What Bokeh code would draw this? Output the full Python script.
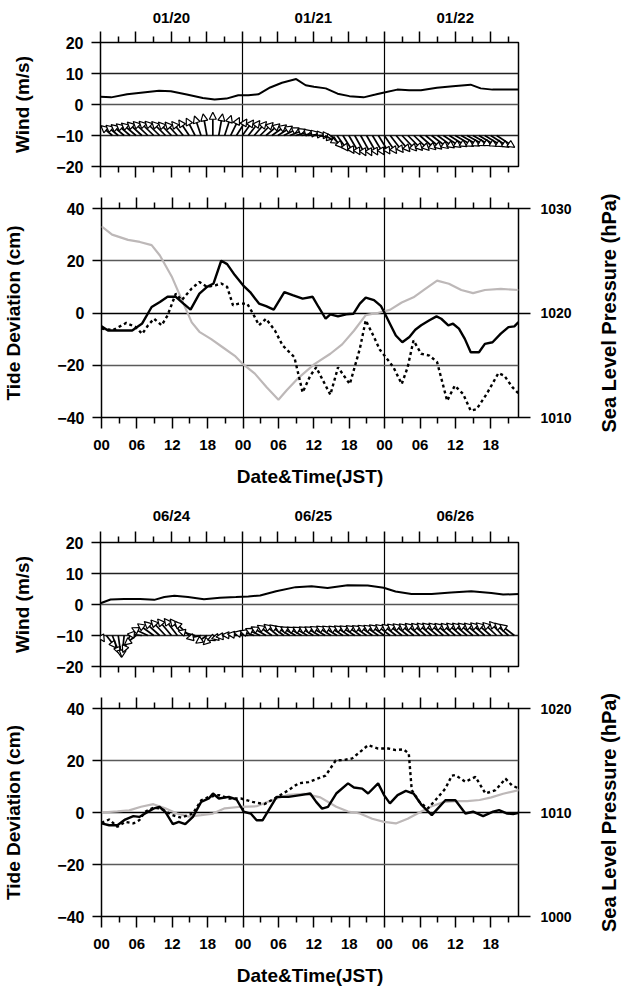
import math
from bokeh.plotting import figure
from bokeh.layouts import column, row
from bokeh.models import (Range1d, LinearAxis, FixedTicker, Grid, Arrow,
                          NormalHead, ColumnDataSource, Title)
from bokeh.embed import file_html
from bokeh.resources import INLINE

# ---------------------------------------------------------------- data
# hours since 00 JST of the first day
jan_days = ["01/20", "01/21", "01/22"]
jun_days = ["06/24", "06/25", "06/26"]

# --- January: wind speed (m/s)
jan_speed_t = [0, 1.8, 4.5, 7.2, 9.9, 11.9, 14.6, 17.3, 19.3, 21.3, 23.3, 25, 26.7, 28.7, 30.7,
               33.1, 34.7, 36.1, 38.1, 40.1, 42.1, 44.5, 46.5, 48, 50.2, 52.2, 54.2, 56.9,
               59.6, 62.6, 64.3, 66.3, 70.7]
jan_speed = [2.5, 2.3, 3.3, 3.9, 4.4, 4.3, 3.2, 2.1, 1.6, 1.9, 3.0, 3.0, 3.3, 5.5, 7.0,
             8.2, 6.2, 5.7, 5.2, 3.5, 2.7, 2.3, 3.2, 3.9, 4.8, 4.6, 4.6, 5.4,
             5.9, 6.4, 5.2, 4.8, 4.8]

# --- January: hourly wind vector components (m/s), hours 0..70
jan_vec_t = list(range(0, 71))
jan_wind_u = [-2.9, -2.9, -3.0, -3.2, -3.4, -3.6, -3.8, -3.8, -3.8, -3.8,
              -3.8, -3.6, -3.4, -3.2, -3.0, -2.7, -2.3, -1.7, -1.0, 0.0,
              1.0, 1.7, 2.3, 2.7, 2.9, 3.0, 3.2, 3.4, 3.6, 3.8,
              3.8, 4.0, 4.2, 4.2, 4.4, 4.4, 4.4, 3.8, 3.4, 3.0,
              2.9, 2.9, 2.9, 2.9, 2.9, 2.9, 3.0, 3.0, 3.2, 3.4,
              3.6, 3.8, 3.8, 4.0, 4.2, 4.2, 4.4, 4.4, 4.6, 4.6,
              4.8, 4.8, 4.8, 4.7, 4.7, 4.8, 4.8, 4.7, 4.6, 4.6, 4.5]
jan_wind_v = [3.0, 3.0, 3.2, 3.3, 3.5, 3.8, 4.0, 4.3, 4.5, 4.6,
              4.6, 4.5, 4.3, 4.3, 4.5, 5.0, 5.6, 6.3, 7.0, 7.5,
              7.0, 6.5, 5.8, 5.3, 5.0, 4.8, 4.5, 4.2, 3.8, 3.4,
              3.0, 2.5, 2.0, 1.5, 1.0, 0.5, 0.1, -1.0, -2.5, -4.0,
              -5.0, -5.8, -6.2, -6.5, -6.5, -6.3, -6.2, -6.0, -5.8, -5.5,
              -5.2, -5.0, -4.8, -4.8, -4.6, -4.4, -4.2, -4.0, -3.8, -3.6,
              -3.5, -3.4, -3.3, -3.3, -3.5, -3.6, -3.8, -3.8, -3.7, -3.6, -3.5]

# --- January: tide deviation (cm), observed (solid) and second series (dotted)
jan_obs_t = [0, 1.1, 3.2, 5.2, 6.9, 8.5, 9.9, 11.2, 12.6, 13.9, 15.1, 16.6, 17.9, 19, 20.3,
             21.3, 22.6, 24, 25.2, 26.7, 27.9, 29.2, 31, 32.4, 34.1, 35.8, 36.8, 38, 38.8,
             40.1, 41.5, 42.7, 43.8, 44.8, 46.2, 47.4, 48, 48.9, 49.9, 51, 52.2, 53.2, 54.2,
             55.6, 56.8, 57.6, 58.8, 59.6, 60.6, 61.6, 62.6, 64, 65, 66.3, 67.7, 69, 70, 70.7]
jan_obs = [-5.1, -6.7, -6.7, -6.7, -4, 2.3, 4.2, 6.2, 6.2, 3.6, 1.3, 7.4, 10, 11.3, 20,
           18.7, 14.5, 10.6, 8, 3.6, 2.6, 1.3, 8, 6.8, 5.5, 6.2, 2.3, -2.2, -0.5,
           -1.3, -0.5, -0.3, 3.6, 5.9, 4.9, 2.6, 0, -4.1, -8.6, -11.2, -9.2, -6.4, -4.7,
           -2.8, -1.3, -2.2, -4.7, -4.1, -6, -9.9, -15, -15, -11.8, -11.2, -7.9, -5.4, -5.1, -3.5]
jan_dot_t = [0, 2, 4.2, 5.8, 6.9, 7.9, 8.9, 10.2, 11.2, 12.6, 13.6, 15.3, 16.6, 17.9, 19.3,
             20.3, 21.3, 22.3, 23.3, 24.7, 25.7, 26.7, 27.9, 29.4, 30.7, 32.7, 34.1, 35.4,
             36.4, 38.8, 40.1, 41.1, 42.1, 43.8, 44.8, 46.2, 47.2, 48.2, 49.5, 50.9, 51.9,
             52.9, 54.2, 55.6, 56.9, 58.6, 59.9, 61.3, 62.6, 63.6, 65.3, 67.3, 68.3, 69.7, 70.7]
jan_dot = [-6, -6.5, -3.8, -5.4, -8, -4.7, -2.2, -4.7, -0.9, 7.4, 4.9, 9.4, 11.9, 10, 10.6,
           11.3, 10, 2.9, 3.6, 3.6, -0.3, -4.7, -2.2, -6.7, -12.4, -16.9, -30.4, -24,
           -20.8, -31.3, -20.8, -24, -27.2, -13.7, -2.8, -9.2, -14.1, -16.9, -20.8, -27.2, -20.8,
           -10.5, -15.6, -16.3, -18.8, -33.6, -27.8, -31, -37.4, -36.8, -31, -23, -24, -28.5, -30.8]
# --- January: sea level pressure (hPa)
jan_slp_t = [0, 1.8, 4.5, 6.5, 8.5, 9.9, 11.9, 13.9, 15.3, 16.6, 18.6, 20.6, 22.6, 24, 26,
             28, 30, 31.4, 33.4, 36.1, 38.8, 40.8, 42.8, 44.8, 46.8, 48.9, 50.9, 52.9, 54.9,
             56.9, 58.9, 61, 63, 65, 67.7, 70.7]
jan_slp = [1028.3, 1027.5, 1027.0, 1026.8, 1026.5, 1025.5, 1023.5, 1020.9, 1019.1, 1018.2,
           1017.5, 1016.7, 1015.9, 1015.1, 1014.2, 1012.9, 1011.7, 1012.6, 1013.8, 1015.1,
           1016.1, 1017.0, 1018.3, 1019.8, 1020.0, 1020.3, 1021.0, 1021.5, 1022.3, 1023.1,
           1022.8, 1022.2, 1021.9, 1022.2, 1022.3, 1022.2]

# --- June: wind speed (m/s)
jun_speed_t = [0, 1.7, 4, 6.7, 9.1, 10.8, 12.5, 14.8, 17.5, 20.2, 22.9, 25, 27, 29.7, 33,
               35.7, 38.4, 41.8, 45.2, 47.9, 49.9, 52.6, 56, 59.3, 62.7, 66.1, 68.1, 70.8]
jun_speed = [0.4, 1.6, 1.8, 1.8, 1.5, 2.4, 2.8, 2.4, 1.7, 2.2, 2.4, 2.6, 2.9, 4.3, 5.6,
             5.9, 5.3, 6.2, 6.1, 5.4, 4.2, 3.4, 3.4, 3.9, 4.3, 3.7, 3.2, 3.4]

# --- June: hourly wind vector components (m/s), hours 0..70
jun_vec_t = list(range(0, 71))
jun_wind_u = [1.0, 2.5, 1.9, 0.8, -0.6, -1.9, -3.0, -3.8, -4.2, -4.2,
              -4.0, -3.8, -3.6, -3.4, -3.4, -3.8, -4.4, -3.8, -2.9, -2.5,
              -2.9, -3.4, -3.8, -3.8, -3.9, -3.8, -3.7, -3.8, -3.9, -3.8,
              -3.6, -3.7, -3.8, -3.9, -3.8, -3.8, -3.7, -3.8, -3.9, -3.8,
              -3.8, -3.7, -3.8, -3.9, -3.8, -3.7, -3.8, -3.8, -3.9, -3.8,
              -3.7, -3.8, -3.9, -3.8, -3.8, -3.7, -3.8, -3.9, -3.8, -3.8,
              -3.7, -3.8, -3.8, -3.9, -3.8, -3.7, -3.8, -3.6, -3.4, -3.6, -3.8]
jun_wind_v = [-2.0, -4.0, -6.0, -7.0, -7.0, -5.5, -3.0, 0.5, 2.5, 3.8,
              4.5, 5.0, 5.3, 5.5, 5.3, 4.5, 1.5, -1.0, -2.5, -3.0,
              -1.5, -1.0, -0.5, 0.2, 0.5, 1.0, 1.5, 2.2, 2.8, 3.3,
              3.6, 3.4, 3.0, 2.8, 2.7, 2.7, 2.8, 2.8, 2.9, 3.0,
              3.0, 3.0, 3.1, 3.1, 3.2, 3.2, 3.3, 3.3, 3.4, 3.5,
              3.6, 3.7, 3.8, 3.8, 3.9, 3.9, 4.0, 4.0, 4.0, 3.9,
              3.9, 4.0, 4.0, 4.0, 4.0, 4.1, 4.1, 4.2, 4.5, 4.0, 3.6]

# --- June: tide deviation (cm)
jun_obs_t = [0, 1.3, 2.7, 4, 5.4, 6.4, 7.4, 8.8, 9.8, 10.8, 12.1, 13.1, 14.2, 15.5, 16.9,
             18.2, 18.9, 19.9, 21.6, 22.9, 24.1, 25.3, 26.3, 27.3, 28.5, 29.7, 31.7, 33.7,
             35.4, 36.4, 37.4, 38.4, 39.8, 41.8, 42.8, 44.2, 45.2, 46.9, 47.9, 48.9, 50.2,
             51.6, 52.9, 54.3, 56, 57, 58.3, 60, 61.7, 63, 64.7, 66.4, 67.4, 68.8, 69.8, 70.8]
jun_obs = [-4.2, -4.9, -4.9, -2.7, -1.4, -1.7, -0.4, 1.5, 2.2, 0.3, -4.5, -3.6, -4.5, -1.7, 4.1,
           5.4, 7.3, 5.4, 6, 5, 0.3, -0.4, -3, -3, 1.5, 6, 6, 6.7,
           7.3, 4.1, 1.5, 2.2, 7.3, 11.2, 9.6, 9.2, 7.3, 11.2, 6.7, 3.5, 6.7,
           8.3, 7.3, 2.8, -1, 1.5, 4.7, 4.7, -0.4, 0.3, -1.4, 0.3, 0.9, -0.4, -0.6, -0.1]
jun_dot_t = [0, 1.3, 2.7, 4, 5.4, 6.4, 7.4, 8.8, 10.1, 12, 13.5, 15.5, 16.9, 18.2, 19.9,
             21.6, 23.6, 25.6, 27.6, 29.7, 31.7, 33.4, 35.1, 38, 39.7, 41.1, 42.5, 44.2,
             45.2, 46.9, 48.6, 49.9, 51.2, 52.1, 52.6, 53.9, 55.3, 56.6, 58.3, 59.4, 60,
             61.7, 63.4, 65.1, 66.8, 68.5, 69.6, 70.8]
jun_dot = [-4, -2.7, -5.5, -3.6, -4.2, -3, 0.3, 1.8, 1.5, -1, -2, -0.4, 4.7, 6, 6.7,
           5.4, 5.4, 4.1, 3.2, 5.8, 8.6, 11.2, 11.7, 14.2, 20, 20.2, 20.8, 24,
           25.9, 24.6, 24.6, 24, 24.3, 22.7, 8.6, 4.1, 1.5, 4.7, 9.2, 14.2, 14.4,
           11.8, 13.7, 7.3, 8.6, 13, 10.4, 9.2]
# --- June: sea level pressure (hPa)
jun_slp_t = [0, 2.7, 4.7, 6.7, 8.8, 10.8, 12.8, 14.8, 16.9, 18.9, 20.9, 23.6, 26.3, 29, 31.7,
             34.4, 37.1, 39.8, 41.8, 43.8, 45.9, 47.9, 49.9, 51.9, 53.9, 56, 58, 60, 62,
             64.1, 66.1, 68.1, 70.8]
jun_slp = [1010.0, 1010.1, 1010.2, 1010.55, 1010.8, 1010.4, 1009.9, 1009.6, 1009.75, 1009.9,
           1010.4, 1010.55, 1010.6, 1011.2, 1011.7, 1011.8, 1011.45, 1010.55, 1010.1, 1009.9,
           1009.4, 1009.1, 1008.95, 1009.4, 1010.0, 1010.6, 1011.0, 1011.1, 1011.1,
           1011.2, 1011.45, 1011.8, 1012.15]

wind_ticks = [-20, -10, 0, 10, 20]
tide_ticks = [-40, -20, 0, 20, 40]
hour_ticks = list(range(0, 71, 6))
minor_hour_ticks = list(range(3, 71, 6))
slp_title = "Sea Level Pressure (hPa)"

# ---------------------------------------------------------------- style
FONT = "Liberation Sans"
X_END = 70.7
WIND_BASE = -10          # baseline of the vector sticks
VEC_SCALE = 0.65         # hours per m/s for the vector sticks
GREY = "#bdb8b8"
W = 622
TITLE_STRIP = 27         # narrow strip holding the right-hand title


def style_axis(ax, size="15px"):
    ax.axis_line_color = None
    ax.major_tick_line_color = "black"
    ax.major_tick_line_width = 1.5
    ax.minor_tick_line_color = "black"
    ax.minor_tick_line_width = 1.5
    ax.major_tick_in = 0
    ax.minor_tick_in = 0
    ax.major_label_text_font = FONT
    ax.major_label_text_font_style = "bold"
    ax.major_label_text_font_size = size
    ax.major_label_text_color = "black"
    ax.axis_label_text_font = FONT
    ax.axis_label_text_font_style = "bold"
    ax.axis_label_text_font_size = "19px"
    ax.axis_label_text_color = "black"
    return ax


def time_axis(labels=None, title=None):
    ax = LinearAxis(ticker=FixedTicker(ticks=hour_ticks, minor_ticks=minor_hour_ticks))
    style_axis(ax)
    ax.major_tick_out = 11
    ax.minor_tick_out = 6
    if labels is None:
        ax.major_label_overrides = {h: "" for h in hour_ticks}
        ax.major_label_text_font_size = "0px"
        ax.major_label_standoff = 0
    else:
        ax.major_label_overrides = labels
    if title:
        ax.axis_label = title
    return ax


def base_fig(width, height, top, bottom, y0, y1):
    p = figure(width=width, height=height, x_range=Range1d(0, X_END), y_range=Range1d(y0, y1),
               x_axis_type=None, y_axis_type=None, output_backend="svg",
               toolbar_location=None, min_border_left=100, min_border_right=width - 518,
               min_border_top=top, min_border_bottom=bottom)
    p.outline_line_color = "black"
    p.outline_line_width = 1.5
    p.outline_line_alpha = 1.0
    p.background_fill_color = "white"
    p.border_fill_color = "white"
    p.add_layout(Grid(dimension=0, ticker=FixedTicker(ticks=[24, 48]),
                      grid_line_color="black", grid_line_width=1.2))
    return p


def wind_panel(days, speed_t, speed, vec_t, u, v, height, top, bottom, day_standoff):
    p = base_fig(W, height, top, bottom, -20, 20)
    p.add_layout(Grid(dimension=1, ticker=FixedTicker(ticks=[-10, 10]),
                      grid_line_color="#222222", grid_line_width=1.6))
    p.add_layout(Grid(dimension=1, ticker=FixedTicker(ticks=[0]),
                      grid_line_color="#555555", grid_line_width=1.6))
    left = LinearAxis(ticker=FixedTicker(ticks=wind_ticks, minor_ticks=[]),
                      axis_label="Wind (m/s)")
    style_axis(left, "16px")
    left.major_tick_out = 9
    left.major_label_standoff = 8
    left.axis_label_standoff = 20
    left.major_label_overrides = {t: (f"\u2212{abs(t)}" if t < 0 else str(t)) for t in wind_ticks}
    p.add_layout(left, "left")
    labels = {h: "" for h in hour_ticks}
    labels[12], labels[36], labels[60] = days
    top_ax = time_axis(labels)
    top_ax.major_label_standoff = day_standoff
    p.add_layout(top_ax, "above")
    p.add_layout(time_axis(), "below")

    p.line(speed_t, speed, line_color="black", line_width=2)

    # vector sticks from the baseline; only those whose tip stays inside the frame
    x0, y0, x1, y1 = [], [], [], []
    for t, uu, vv in zip(vec_t, u, v):
        tip = t + uu * VEC_SCALE
        if 0 <= tip <= X_END:
            x0.append(t)
            y0.append(WIND_BASE)
            x1.append(tip)
            y1.append(WIND_BASE + vv)
    src = ColumnDataSource(dict(x0=x0, y0=y0, x1=x1, y1=y1))
    p.add_layout(Arrow(source=src, x_start="x0", y_start="y0", x_end="x1", y_end="y1",
                       line_color="black", line_width=1.7,
                       end=NormalHead(size=7, fill_color="white", line_color="black",
                                      line_width=1.2)))
    return p


def tide_panel(obs_t, obs, dot_t, dot, slp_t, slp, slp_range, height, top, bottom):
    p = base_fig(W - TITLE_STRIP, height, top, bottom, -40, 40)
    p.add_layout(Grid(dimension=1, ticker=FixedTicker(ticks=[-20, 20]),
                      grid_line_color="#5a5a5a", grid_line_width=1.6))
    p.add_layout(Grid(dimension=1, ticker=FixedTicker(ticks=[0]),
                      grid_line_color="black", grid_line_width=1.6))
    p.extra_y_ranges = {"slp": Range1d(*slp_range)}
    left = LinearAxis(ticker=FixedTicker(ticks=tide_ticks, minor_ticks=[]),
                      axis_label="Tide Deviation (cm)")
    style_axis(left, "16px")
    left.major_tick_out = 9
    left.major_label_standoff = 8
    left.axis_label_standoff = 30
    left.major_label_overrides = {t: (f"\u2212{abs(t)}" if t < 0 else str(t)) for t in tide_ticks}
    p.add_layout(left, "left")

    slp_ticks = [slp_range[0], (slp_range[0] + slp_range[1]) / 2, slp_range[1]]
    right = LinearAxis(y_range_name="slp", ticker=FixedTicker(ticks=slp_ticks, minor_ticks=[]))
    style_axis(right, "14px")
    right.major_tick_out = 12
    right.major_label_standoff = 10
    right.major_label_overrides = {t: str(int(t)) for t in slp_ticks}
    p.add_layout(right, "right")

    p.add_layout(time_axis(), "above")
    bottom_labels = {h: f"{h % 24:02d}" for h in hour_ticks}
    bot = time_axis(bottom_labels, "Date&Time(JST)")
    bot.major_label_standoff = 11
    bot.axis_label_standoff = 13
    p.add_layout(bot, "below")

    p.line(slp_t, slp, y_range_name="slp", line_color=GREY, line_width=2.2)
    p.line(dot_t, dot, line_color="black", line_width=2.4, line_dash="3 3")
    p.line(obs_t, obs, line_color="black", line_width=2.4)

    # narrow strip to the right carrying the pressure-axis title (reads bottom-to-top)
    s = figure(width=TITLE_STRIP, height=height, x_range=Range1d(0, 1), y_range=Range1d(0, 1),
               x_axis_type=None, y_axis_type=None, output_backend="svg",
               toolbar_location=None, min_border=0)
    s.outline_line_color = None
    s.background_fill_color = "white"
    s.border_fill_color = "white"
    s.add_layout(Title(text=slp_title, align="center", standoff=0, text_font=FONT,
                       text_font_style="bold", text_font_size="20px", text_color="black"),
                 "left")
    return row(p, s, spacing=0)


p1 = wind_panel(jan_days, jan_speed_t, jan_speed, jan_vec_t, jan_wind_u, jan_wind_v,
                187, 42, 21, 6)
p2 = tide_panel(jan_obs_t, jan_obs, jan_dot_t, jan_dot, jan_slp_t, jan_slp, (1010, 1030),
                308, 21, 78)
p3 = wind_panel(jun_days, jun_speed_t, jun_speed, jun_vec_t, jun_wind_u, jun_wind_v,
                192, 47, 21, 8)
p4 = tide_panel(jun_obs_t, jun_obs, jun_dot_t, jun_dot, jun_slp_t, jun_slp, (1000, 1020),
                303, 21, 74)

layout = column(p1, p2, p3, p4, spacing=0)
open("out.html", "w").write(file_html(layout, INLINE))
